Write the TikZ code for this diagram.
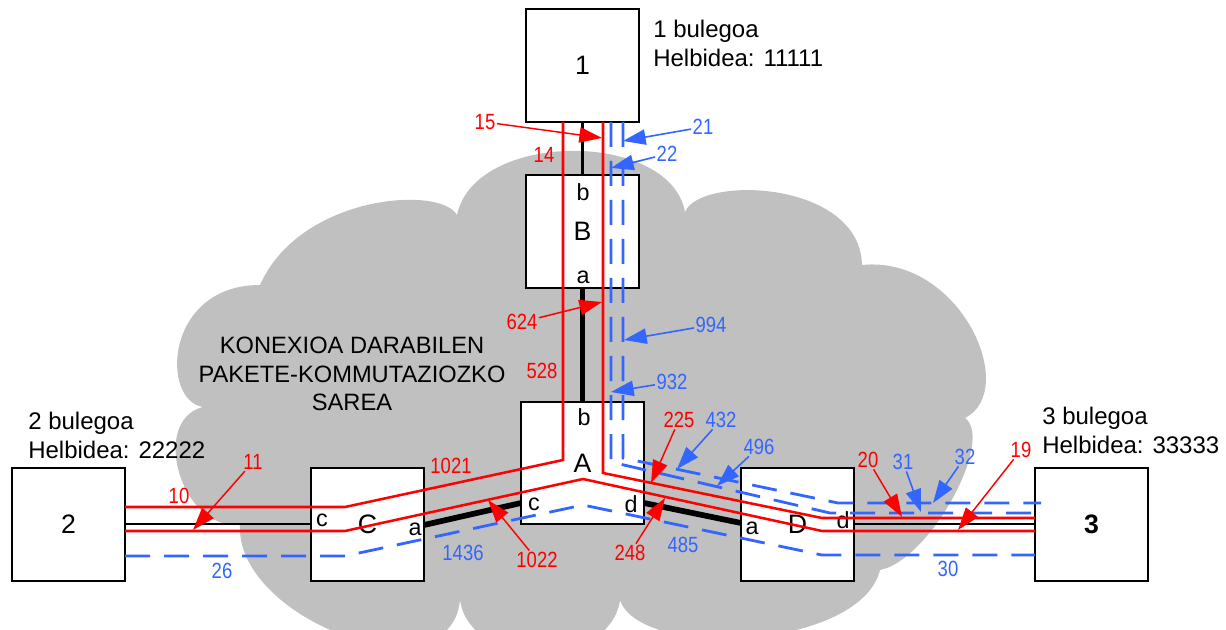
\documentclass[tikz,border=0pt]{standalone}
\usepackage{fontspec}
\setmainfont{Liberation Sans}
\newfontfamily\narrowfont[FakeStretch=0.84]{Liberation Sans}
\usetikzlibrary{arrows.meta}
\definecolor{myred}{RGB}{255,0,0}
\definecolor{myblue}{RGB}{51,102,255}
\definecolor{cloudgray}{RGB}{192,192,192}
\newcommand{\myofficefont}{\fontsize{18}{21.5}\selectfont}
\newcommand{\mycloudfont}{\fontsize{17.75}{21.5}\selectfont}
\newcommand{\mynumfont}{\narrowfont\fontsize{16.5}{18}\selectfont}
\newcommand{\myboxfont}{\fontsize{20}{22}\selectfont}
\newcommand{\myportfont}{\fontsize{17.5}{20}\selectfont}
\begin{document}
\begin{tikzpicture}[x=0.75pt,y=-0.75pt,
  sqbox/.style={draw, line width=2pt, fill=white, minimum width=84.75pt, minimum height=84.75pt, inner sep=0pt, font=\myboxfont},
  office/.style={align=left, anchor=north west, inner sep=0pt, font=\myofficefont},
  port/.style={inner sep=0pt, font=\myportfont},
  rnum/.style={text=myred, inner sep=1pt, font=\mynumfont},
  bnum/.style={text=myblue, inner sep=1pt, font=\mynumfont},
  redline/.style={draw=myred, line width=1.9pt},
  blueline/.style={draw=myblue, line width=2.1pt, dash pattern=on 18.75pt off 10.5pt},
  thinblack/.style={draw=black, line width=1.8pt},
  thickblack/.style={draw=black, line width=4.3pt},
  rarrow/.style={draw=myred, line width=1.1pt, -{Triangle[length=17pt,width=11.5pt]}},
  barrow/.style={draw=myblue, line width=1.2pt, -{Triangle[length=17pt,width=11.5pt]}}
]
\useasboundingbox (0,0) rectangle (1226,630);
% cloud
\begin{scope}
\clip (0,0) rectangle (1226,630);
\fill[cloudgray] (203,407) .. controls (160,400) and (165,285) .. (260,285)
 .. controls (300,195) and (440,185) .. (457,215)
 .. controls (475,130) and (670,130) .. (685,212)
 .. controls (700,175) and (860,180) .. (862,265)
 .. controls (960,255) and (1020,390) .. (965,418)
 .. controls (995,440) and (930,560) .. (880,570)
 .. controls (860,650) and (640,660) .. (620,600)
 .. controls (610,670) and (470,670) .. (460,600)
 .. controls (450,700) and (235,620) .. (240,525)
 .. controls (180,530) and (150,420) .. (203,407) -- cycle;
\end{scope}
\node[align=center, inner sep=0pt, font=\mycloudfont] (cloudtxt) at (352,374) {KONEXIOA DARABILEN\\PAKETE-KOMMUTAZIOZKO\\SAREA};

% port coordinates
\coordinate (Ac) at (521,503);
\coordinate (Ca) at (424,525);
\coordinate (Ad) at (644,503);
\coordinate (Da) at (741,523);
\coordinate (Cc) at (311,524);
\coordinate (P2e) at (125,524);
\coordinate (Dd) at (854,524);
\coordinate (P3w) at (1035,524);

% boxes
\node[sqbox] (n1) at (582.5,65.5) {1};
\node[sqbox] (nB) at (582.5,231.5) {B};
\node[sqbox, minimum width=92.25pt, minimum height=91.5pt] (nA) at (582.5,463) {A};
\node[sqbox] (nC) at (367.5,524.5) {C};
\node[sqbox] (nD) at (797.5,524.5) {D};
\node[sqbox] (n2) at (68.5,524.5) {2};
\node[sqbox] (n3) at (1091.5,524.5) {\bfseries 3};

% black links
\draw[thinblack] (n1.south) -- (nB.north);
\draw[thickblack] (nB.south) -- (nA.north);
\draw[thickblack] (Ac) -- (Ca);
\draw[thickblack] (Ad) -- (Da);
\draw[thinblack] (P2e) -- (Cc);
\draw[thinblack] (Dd) -- (P3w);

% port letters
\node[port] (Bb) at (583,192) {b};
\node[port] (Ba) at (583,277) {a};
\node[port] (Ab) at (584,417) {b};
\node[port] (Acl) at (534,504) {c};
\node[port] (Adl) at (631,504) {d};
\node[port] (Ccl) at (322,520) {c};
\node[port] (Cal) at (415,529) {a};
\node[port] (Dal) at (752,528) {a};
\node[port] (Ddl) at (843,520) {d};

% red paths
\coordinate (r1a) at (563,122); \coordinate (r1b) at (563,460); \coordinate (r1c) at (345,507); \coordinate (r1d) at (125,507);
\coordinate (r2a) at (603,122); \coordinate (r2b) at (603,473); \coordinate (r2c) at (822,518); \coordinate (r2d) at (1035,518);
\coordinate (r3a) at (125,531); \coordinate (r3b) at (345,531); \coordinate (r3c) at (583,479); \coordinate (r3d) at (822,531); \coordinate (r3e) at (1035,531);
\draw[redline] (r1a) -- (r1b) -- (r1c) -- (r1d);
\draw[redline] (r2a) -- (r2b) -- (r2c) -- (r2d);
\draw[redline] (r3a) -- (r3b) -- (r3c) -- (r3d) -- (r3e);

% blue paths
\coordinate (b1a) at (623,122); \coordinate (b1b) at (623,458); \coordinate (b1c) at (838,503); \coordinate (b1d) at (1041,503);
\coordinate (b2a) at (611,122); \coordinate (b2b) at (611,462); \coordinate (b2c) at (830,513); \coordinate (b2d) at (1035,513);
\coordinate (b3a) at (125,556); \coordinate (b3b) at (345,556); \coordinate (b3c) at (583,505); \coordinate (b3d) at (822,555); \coordinate (b3e) at (1035,555);
\draw[blueline] (b1a) -- (b1b) -- (b1c) -- (b1d);
\draw[blueline] (b2a) -- (b2b) -- (b2c) -- (b2d);
\draw[blueline] (b3a) -- (b3b) -- (b3c) -- (b3d) -- (b3e);

% office labels
\node[office] (o1) at (653,20) {1 bulegoa\\Helbidea: 11111};
\node[office] (o2) at (28,412) {2 bulegoa\\Helbidea: 22222};
\node[office] (o3) at (1042,407) {3 bulegoa\\Helbidea: 33333};

% red number labels
\node[rnum] (l15) at (485,122) {15};
\node[rnum] (l14) at (544,155) {14};
\node[rnum] (l624) at (522,322) {624};
\node[rnum] (l528) at (542,371) {528};
\node[rnum] (l1021) at (451,466) {1021};
\node[rnum] (l10) at (179,496) {10};
\node[rnum] (l11) at (253,462) {11};
\node[rnum] (l1022) at (537,560) {1022};
\node[rnum] (l248) at (630,553) {248};
\node[rnum] (l225) at (679,420) {225};
\node[rnum] (l20) at (868,460) {20};
\node[rnum] (l19) at (1021,450) {19};
\coordinate (t15) at (602,138);
\coordinate (t624) at (602,302);
\coordinate (t11) at (193,530);
\coordinate (t1022) at (488,500);
\coordinate (t248) at (665,498);
\coordinate (t225) at (651,483);
\coordinate (t20) at (902,517);
\coordinate (t19) at (958,530);
\draw[rarrow] (l15) -- (t15);
\draw[rarrow] (l624) -- (t624);
\draw[rarrow] (l11) -- (t11);
\draw[rarrow] (l1022) -- (t1022);
\draw[rarrow] (l248) -- (t248);
\draw[rarrow] (l225) -- (t225);
\draw[rarrow] (l20) -- (t20);
\draw[rarrow] (l19) -- (t19);

% blue number labels
\node[bnum] (l21) at (703,127) {21};
\node[bnum] (l22) at (667,154) {22};
\node[bnum] (l994) at (711,325) {994};
\node[bnum] (l932) at (672,382) {932};
\node[bnum] (l432) at (721,420) {432};
\node[bnum] (l496) at (759,447) {496};
\node[bnum] (l31) at (903,462) {31};
\node[bnum] (l32) at (965,457) {32};
\node[bnum] (l485) at (683,545) {485};
\node[bnum] (l1436) at (463,553) {1436};
\node[bnum] (l26) at (222,571) {26};
\node[bnum] (l30) at (948,569) {30};
\coordinate (t21) at (623,141);
\coordinate (t22) at (611,168);
\coordinate (t994) at (624,340);
\coordinate (t932) at (611,392);
\coordinate (t432) at (677,469);
\coordinate (t496) at (717,486);
\coordinate (t31) at (921,512);
\coordinate (t32) at (933,503);
\draw[barrow] (l21) -- (t21);
\draw[barrow] (l22) -- (t22);
\draw[barrow] (l994) -- (t994);
\draw[barrow] (l932) -- (t932);
\draw[barrow] (l432) -- (t432);
\draw[barrow] (l496) -- (t496);
\draw[barrow] (l31) -- (t31);
\draw[barrow] (l32) -- (t32);
\end{tikzpicture}
\end{document}
